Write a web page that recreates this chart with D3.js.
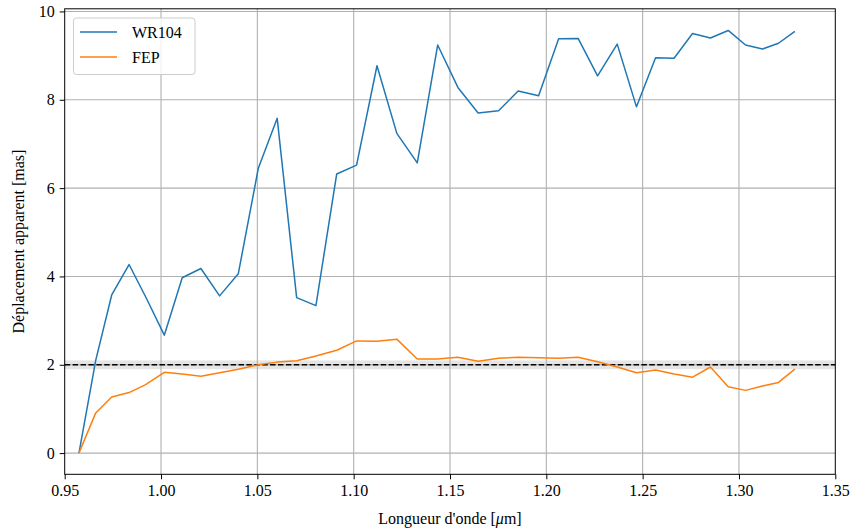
<!DOCTYPE html>
<html><head><meta charset="utf-8">
<script src="https://cdn.jsdelivr.net/npm/d3@7"></script>
<style>body{margin:0;background:#fff;} svg{display:block;}</style>
</head><body><div id="chart"></div>
<script>
const wavelengths = [0.9574,0.9661,0.9744,0.9834,0.9920,1.0017,1.0110,1.0207,1.0304,1.0401,1.0505,1.0603,1.0704,1.0804,1.0912,1.1015,1.1121,1.1224,1.1330,1.1436,1.1541,1.1646,1.1752,1.1854,1.1960,1.2064,1.2165,1.2266,1.2368,1.2468,1.2567,1.2663,1.2759,1.2852,1.2944,1.3034,1.3122,1.3205,1.3290];
const wr104 = [0,2.1,3.58,4.27,3.54,2.67,3.97,4.18,3.56,4.06,6.45,7.58,3.52,3.34,6.32,6.52,8.77,7.24,6.57,9.24,8.28,7.70,7.75,8.20,8.09,9.38,9.39,8.54,9.26,7.84,8.95,8.94,9.50,9.40,9.57,9.24,9.15,9.28,9.55];
const fep = [0,0.91,1.27,1.37,1.55,1.83,1.79,1.74,1.82,1.90,2.0,2.06,2.09,2.20,2.33,2.54,2.53,2.58,2.13,2.13,2.17,2.08,2.15,2.17,2.16,2.15,2.17,2.07,1.95,1.82,1.88,1.79,1.72,1.95,1.50,1.42,1.52,1.60,1.90];
const seriesNames = ["WR104","FEP"];
const xTicks = [0.95,1.00,1.05,1.10,1.15,1.20,1.25,1.30,1.35];
const yTicks = [0,2,4,6,8,10];
const refLevel = 2;
const refBand = [1.9,2.1];

const W=853,H=532;
const L=64.7,R=835.3,T=8.8,B=474.3;
const svg=d3.select("#chart").append("svg").attr("width",W).attr("height",H)
  .style("font-family","'Liberation Serif','Times New Roman',serif");
const x=d3.scaleLinear().domain([0.95,1.35]).range([L,R]);
const y=d3.scaleLinear().domain([-0.48,10.06]).range([B,T]);
const colors=["#1f77b4","#ff7f0e"];

// band
svg.append("rect").attr("x",L).attr("width",R-L)
  .attr("y",y(refBand[1])).attr("height",y(refBand[0])-y(refBand[1]))
  .attr("fill","#000").attr("fill-opacity",0.1);

// grid
const g=svg.append("g");
g.selectAll(".vg").data(xTicks.slice(1,-1)).enter().append("line")
  .attr("x1",d=>x(d)).attr("x2",d=>x(d)).attr("y1",T).attr("y2",B)
  .attr("stroke","#b0b0b0").attr("stroke-width",1.1);
g.selectAll(".hg").data(yTicks).enter().append("line")
  .attr("y1",d=>y(d)).attr("y2",d=>y(d)).attr("x1",L).attr("x2",R)
  .attr("stroke","#b0b0b0").attr("stroke-width",1.1);

// dashed line
svg.append("line").attr("x1",L).attr("x2",R).attr("y1",y(refLevel)).attr("y2",y(refLevel))
  .attr("stroke","#000").attr("stroke-width",1.5).attr("stroke-dasharray","5.5,2.4");

// lines
const line=d3.line().x((d,i)=>x(wavelengths[i])).y(d=>y(d));
[wr104,fep].forEach((s,k)=>{
  svg.append("path").datum(s).attr("d",line).attr("fill","none")
    .attr("stroke",colors[k]).attr("stroke-width",1.5).attr("stroke-linejoin","round");
});

// frame
svg.append("rect").attr("x",L).attr("y",T).attr("width",R-L).attr("height",B-T)
  .attr("fill","none").attr("stroke","#000").attr("stroke-width",1);

// axes
const xa=svg.append("g").attr("transform",`translate(0,${B})`)
  .call(d3.axisBottom(x).tickValues(xTicks).tickFormat(d3.format(".2f")).tickSize(5).tickPadding(5));
const ya=svg.append("g").attr("transform",`translate(${L},0)`)
  .call(d3.axisLeft(y).tickValues(yTicks).tickFormat(d3.format("d")).tickSize(5).tickPadding(5));
[xa,ya].forEach(a=>{
  a.select(".domain").remove();
  a.selectAll("line").attr("stroke","#000").attr("stroke-width",1);
  a.selectAll("text").attr("font-size","16px").attr("fill","#000")
    .style("font-family","'Liberation Serif','Times New Roman',serif");
});

svg.append("text").attr("x",(L+R)/2).attr("y",524).attr("text-anchor","middle")
  .attr("font-size","16px").text("Longueur d'onde [")
  .append("tspan").attr("font-style","italic").text("μ")
  .select(function(){return this.parentNode;}).append("tspan").text("m]");
svg.append("text").attr("transform",`translate(24,${(T+B)/2}) rotate(-90)`)
  .attr("text-anchor","middle").attr("font-size","16px").text("Déplacement apparent [mas]");

// legend
const lg=svg.append("g");
lg.append("rect").attr("x",73.5).attr("y",18).attr("width",121.5).attr("height",56.5)
  .attr("rx",3).attr("fill","#fff").attr("fill-opacity",0.8).attr("stroke","#cccccc");
seriesNames.forEach((n,i)=>{
  const yy=32+i*25;
  lg.append("line").attr("x1",80).attr("x2",117).attr("y1",yy).attr("y2",yy)
    .attr("stroke",colors[i]).attr("stroke-width",1.5);
  lg.append("text").attr("x",132).attr("y",yy+5.5).attr("font-size","16px").text(n);
});
</script></body></html>
